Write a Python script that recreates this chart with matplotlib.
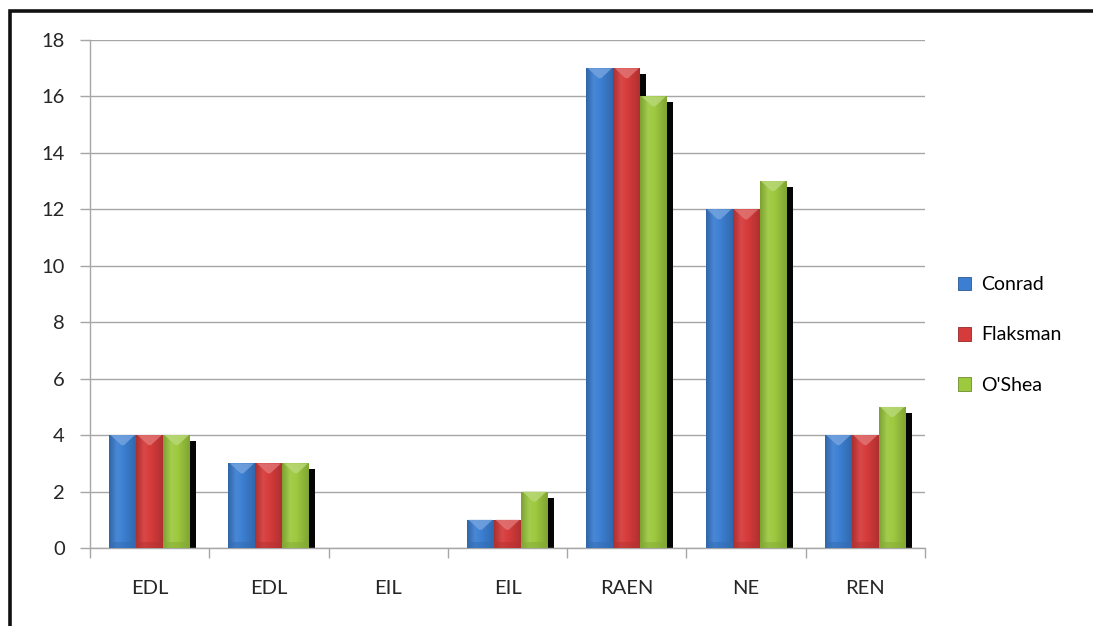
import numpy as np
import matplotlib
matplotlib.use("Agg")
import matplotlib.pyplot as plt
import matplotlib.transforms as mtransforms
from matplotlib.colors import LinearSegmentedColormap, to_rgb
from matplotlib.patches import Rectangle, Polygon

plt.rcParams['font.family'] = ['Lato', 'DejaVu Sans']

categories = ["EDL", "EDL", "EIL", "EIL", "RAEN", "NE", "REN"]
series_names = ["Conrad", "Flaksman", "O'Shea"]
conrad = [4, 3, 0, 1, 17, 12, 4]
flaksman = [4, 3, 0, 1, 17, 12, 4]
oshea = [4, 3, 0, 2, 16, 13, 5]
yticks = [0, 2, 4, 6, 8, 10, 12, 14, 16, 18]

colors = ["#3c7fd2", "#d63b3b", "#9dc93f"]

W, H = 1093, 626
fig = plt.figure(figsize=(W / 100, H / 100), dpi=100)
ax = fig.add_axes([90 / W, 1 - 548 / H, (925 - 90) / W, (548 - 40) / H])

x = np.arange(len(categories))
bw = 0.226
ax.set_xlim(-0.5, len(categories) - 0.5)
ax.set_ylim(0, 18)

# px per data unit, used for the bevel depth
px_per_unit = (548 - 40) / 18.0
bevel = 10 / px_per_unit


def shade(c, f):
    r = np.array(to_rgb(c))
    if f < 1:
        return tuple(r * f)
    return tuple(r + (1 - r) * (f - 1))


shadow_tr = mtransforms.offset_copy(ax.transData, fig=fig, x=6, y=-6, units='dots')

all_series = [conrad, flaksman, oshea]
# shadows first so every bar sits above them
for i, vals in enumerate(all_series):
    for xi, v in zip(x, vals):
        if v <= 0:
            continue
        left = xi + (i - 1) * bw - bw / 2
        ax.add_patch(Rectangle((left, 0), bw, v, transform=shadow_tr,
                               facecolor="#050505", edgecolor="none", zorder=2))

grad = np.linspace(0, 1, 64).reshape(1, -1)
for i, (vals, c) in enumerate(zip(all_series, colors)):
    cmap = LinearSegmentedColormap.from_list(
        "b%d" % i,
        [(0, shade(c, 0.8)), (0.3, shade(c, 1.07)), (0.55, shade(c, 1.0)),
         (1, shade(c, 0.82))])
    for xi, v in zip(x, vals):
        if v <= 0:
            continue
        left = xi + (i - 1) * bw - bw / 2
        rect = Rectangle((left, 0), bw, v, facecolor=c, edgecolor="none", zorder=3)
        ax.add_patch(rect)
        im = ax.imshow(grad, cmap=cmap, extent=[left, left + bw, 0, v],
                       aspect='auto', zorder=3.1, interpolation='bicubic')
        im.set_clip_path(rect)
        # lighter top facet of the bevel
        d = min(bevel, v * 0.5)
        tri = Polygon([(left + bw * 0.05, v), (left + bw * 0.95, v),
                       (left + bw * 0.55, v - d), (left + bw * 0.45, v - d)],
                      closed=True, facecolor=shade(c, 1.3), edgecolor="none",
                      alpha=0.8, zorder=3.2)
        ax.add_patch(tri)
        # darker bottom edge
        d2 = min(bevel * 0.6, v * 0.3)
        ax.add_patch(Rectangle((left, 0), bw, d2, facecolor=shade(c, 0.85),
                               edgecolor="none", alpha=0.5, zorder=3.2))

ax.set_xlim(-0.5, len(categories) - 0.5)
ax.set_ylim(0, 18)

ax.set_yticks(yticks)
ax.set_yticklabels([str(t) for t in yticks])
ax.yaxis.grid(True, color="#a6a6a6", linewidth=1.0)
ax.set_axisbelow(True)

ax.set_xticks(x)
ax.set_xticklabels(categories)
ax.set_xticks(np.arange(len(categories) + 1) - 0.5, minor=True)
ax.tick_params(axis='x', which='major', length=0, pad=23, labelsize=14.5, colors="#262626")
ax.tick_params(axis='x', which='minor', length=7, width=1, color="#a6a6a6")
ax.tick_params(axis='y', length=7, width=1, color="#a6a6a6", pad=11,
               labelsize=14.5, labelcolor="#262626")

for s in ["top", "right"]:
    ax.spines[s].set_visible(False)
for s in ["left", "bottom"]:
    ax.spines[s].set_color("#a6a6a6")
    ax.spines[s].set_linewidth(1.0)

handles = [Rectangle((0, 0), 1, 1, facecolor=c, edgecolor=shade(c, 0.7), linewidth=0.6)
           for c in colors]
fig.legend(handles, series_names, loc='center left',
           bbox_to_anchor=(940 / W, 1 - 335 / H), frameon=False,
           handlelength=0.7, handleheight=0.7, handletextpad=0.5,
           labelspacing=1.7, fontsize=14)

# outer chart frame
fig.add_artist(Rectangle((9.5 / W, -0.1), 1.2, 1 - 11 / H + 0.1,
                         transform=fig.transFigure, fill=False,
                         edgecolor="#111111", linewidth=2.6))

fig.savefig("out.png", dpi=100)
